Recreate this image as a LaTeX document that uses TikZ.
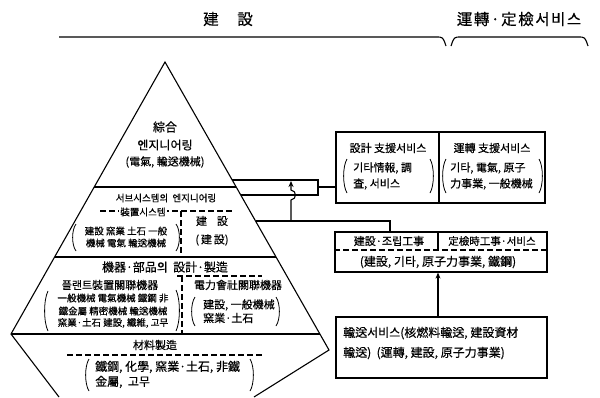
\documentclass[tikz,border=0pt]{standalone}
\usepackage{fontspec}
\setmainfont{Noto Sans CJK KR}[FakeBold=0.35]
\usetikzlibrary{arrows.meta}
\newcommand\ParL[3]{\draw[paren] (#1,#2) .. controls ({#1-4.5},{#2+0.22*(#3-#2)}) and ({#1-4.5},{#3-0.22*(#3-#2)}) .. (#1,#3);}
\newcommand\ParR[3]{\draw[paren] (#1,#2) .. controls ({#1+4.5},{#2+0.22*(#3-#2)}) and ({#1+4.5},{#3-0.22*(#3-#2)}) .. (#1,#3);}
\begin{document}
\begin{tikzpicture}[x=1pt,y=-1pt,
  edge/.style={line width=1.1pt},
  boxl/.style={draw,line width=1.2pt,inner sep=0pt},
  dline/.style={line width=1.1pt,dash pattern=on 6pt off 3pt},
  paren/.style={line width=0.8pt},
  th/.style={inner sep=0pt,font=\fontsize{15.5}{17}\selectfont},
  tb/.style={inner sep=0pt,font=\fontsize{12}{14}\selectfont},
  tm/.style={inner sep=0pt,font=\fontsize{11}{13}\selectfont},
  ts/.style={inner sep=0pt,font=\fontsize{9.5}{11}\selectfont},
  arr/.style={edge,-{Stealth[length=6pt,width=5pt]}}
]
\useasboundingbox (0,0) rectangle (600,397);
\fill[white] (0,0) rectangle (600,397);

% header
\node[th] (h1) at (228,19) {建\hspace{1.2em}設};
\node[th] (h2) at (519,19) {\addfontfeatures{LetterSpace=10}運轉·定檢서비스};
\coordinate (bA) at (59,37);
\coordinate (bB) at (436,37);
\coordinate (bC) at (446,46);
\coordinate (bD) at (451,46);
\coordinate (bE) at (461,37);
\coordinate (bF) at (578,37);
\coordinate (bG) at (588,46);
\draw[edge] (bA) -- (bB) .. controls (443,37) .. (bC);
\draw[edge] (bD) .. controls (454,37) .. (bE) -- (bF) .. controls (585,37) .. (bG);

% pyramid outline
\coordinate (A) at (165,62);
\coordinate (L) at (11,334);
\coordinate (R) at (329,350);
\coordinate (BL) at (59,397);
\coordinate (BR) at (254,397);
\draw[edge] (BL) -- (L) -- (A) -- (R) -- (BR);

% dividers
\coordinate (d1l) at (94.2,187);  \coordinate (d1r) at (236.1,187);
\coordinate (d2l) at (54.6,257);  \coordinate (d2r) at (276,257);
\coordinate (d3r) at (319.8,334);
\draw[edge] (d1l) -- (d1r);
\draw[edge] (d2l) -- (d2r);
\draw[edge] (L) -- (d3r);

% top section
\node[tb] (n1) at (165,127) {綜合};
\node[tb] (n2) at (165,145) {엔지니어링};
\node[tm] (n3) at (165,162) {(電氣, 輸送機械)};

% second section
\node[ts] (n4) at (166,198) {서브시스템의\ \ 엔지니어링};
\draw[dline] (100,211) -- (233,211);
\draw[dline] (181,211) -- (181,257);
\node[ts,fill=white,inner xsep=1.5pt] (n5) at (143,212) {裝置시스템};
\node[ts] (n6) at (126,231) {建設 窯業 土石 一般};
\node[ts] (n7) at (126,243) {機械 電氣 輸送機械};
\ParL{76}{224}{251}
\ParR{176}{224}{251}
\node[tm] (n8) at (212,221) {建\hspace{0.9em}設};
\node[tm] (n9) at (212,240) {(\,建\,設)};

% third section
\node[tb] (n10) at (165,267) {機器·部品의\ \ 設計·製造};
\draw[dline] (177,276) -- (262,276);
\draw[dline] (182,276) -- (182,334);
\node[tm] (n11) at (110,285) {플랜트裝置關聯機器};
\node[ts] (n12) at (113,298) {一般機械 電氣機械 鐵鋼 非};
\node[ts] (n13) at (113,311) {鐵金屬 精密機械 輸送機械};
\node[ts] (n14) at (113,323) {窯業·土石 建設, 纖維, 고무};
\ParL{48}{291}{331}
\ParR{176}{290}{331}
\node[tm] (n15) at (238,285) {電力會社關聯機器};
\node[tm,anchor=west] (n16) at (203,305) {建設, 一般機械};
\node[tm,anchor=west] (n17) at (203,318) {窯業·土石};
\ParL{195}{297}{326}
\ParR{276}{297}{326}

% fourth section
\node[tm] (n18) at (155,345) {材料製造};
\draw[dline] (67,355) -- (263,355);
\node[tb,anchor=west] (n19) at (95,367) {鐵鋼, 化學, 窯業·土石, 非鐵};
\node[tb,anchor=west] (n20) at (95,382) {金屬,\ \ 고무};
\ParL{89}{359}{391}
\ParR{250}{359}{391}

% right boxes
\node[boxl,minimum width=103pt,minimum height=71pt] (s1) at (387.5,167.5) {};
\node[boxl,minimum width=106pt,minimum height=71pt] (s2) at (492,167.5) {};
\node[boxl,minimum width=212pt,minimum height=40pt] (s3) at (441,252) {};
\node[boxl,minimum width=211pt,minimum height=61pt] (s4) at (441.5,347.5) {};

\node[tm] (t1) at (388,148) {設計 支援서비스};
\node[tm,anchor=west] (t2) at (353,168) {기타情報, 調};
\node[tm,anchor=west] (t3) at (353,184) {査, 서비스};
\ParL{347}{159}{193}
\ParR{430}{159}{193}
\node[tm] (t4) at (492,148) {運轉 支援서비스};
\node[tm,anchor=west] (t5) at (450,168) {기타, 電氣, 原子};
\node[tm,anchor=west] (t6) at (450,184) {力事業, 一般機械};
\ParL{446}{159}{193}
\ParR{539}{159}{193}

\coordinate (k) at (438,0);
\draw[edge] (s3.north -| k) -- (k |- 0,250);
\draw[dline] (s3.west |- 0,250) -- (s3.east |- 0,250);
\node[tm] (t7) at (389,241) {建設·조립工事};
\node[ts,font=\fontsize{10.5}{12}\selectfont] (t8) at (492,241) {定檢時工事·서비스};
\node[tb] (t9) at (438,262) {(建設, 기타, 原子力事業, 鐵鋼)};

\node[tb,anchor=west] (t10) at (343,333) {輸送서비스(核燃料輸送, 建設資材};
\node[tb,anchor=west] (t11) at (343,353) {輸送)\ \ (運轉, 建設, 原子力事業)};

% connectors
\coordinate (b1) at (232.1,180);
\coordinate (b2) at (318,180);
\coordinate (b3) at (318,195);
\coordinate (b4) at (240.7,195);
\coordinate (b5) at (318,187);
\draw[edge] (b1) -- (b2) -- (b3) -- (b4);
\draw[edge] (b5) -- (b5 -| s1.west);

\coordinate (c1) at (255.5,221);
\coordinate (c2) at (390,221);
\draw[edge] (c1) -- (c2) -- (c2 |- s3.north);

\coordinate (j0) at (291,221);
\coordinate (j1) at (291,181);
\draw[arr] (j0) -- (291,200) .. controls (297,199) and (297,191) .. (291,190) -- (j1);

\draw[arr] (s4.north -| k) -- (s3.south -| k);
\end{tikzpicture}
\end{document}
